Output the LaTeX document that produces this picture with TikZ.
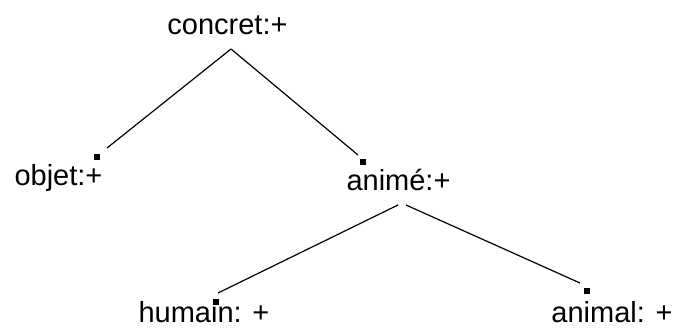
\documentclass[tikz,border=0pt]{standalone}
\usepackage{fontspec}
\setmainfont{Liberation Sans}
\begin{document}
\begin{tikzpicture}[x=1pt,y=-1pt,
  lbl/.style={anchor=base,inner sep=0pt,font=\fontsize{29}{34}\selectfont},
  dot/.style={fill=black,minimum size=6pt,inner sep=0pt,draw=none},
  edge/.style={line width=1.2pt,black}]
\useasboundingbox (0,0) rectangle (682,329);
% labels
\node[lbl] (concret) at (227.5,35) {concret:+};
\node[lbl] (objet) at (58.5,185) {objet:+};
\node[lbl] (anime) at (398.5,190) {animé:+};
\node[lbl] (humain) at (204,322) {humain: +};
\node[lbl] (animal) at (612,322) {animal: +};
% markers
\node[dot] (dobjet) at (97,157) {};
\node[dot] (danime) at (363,162) {};
\node[dot] (dhumain) at (216,302) {};
\node[dot] (danimal) at (587,291) {};
% connector ends
\coordinate (c1) at (231,49);
\coordinate (e1) at (107,148);
\coordinate (e2) at (358,155);
\coordinate (c2l) at (398,205);
\coordinate (c2r) at (406,205);
\coordinate (e3) at (218,293);
\coordinate (e4) at (580,283);
\draw[edge] (c1) -- (e1);
\draw[edge] (c1) -- (e2);
\draw[edge] (c2l) -- (e3);
\draw[edge] (c2r) -- (e4);
\end{tikzpicture}
\end{document}
